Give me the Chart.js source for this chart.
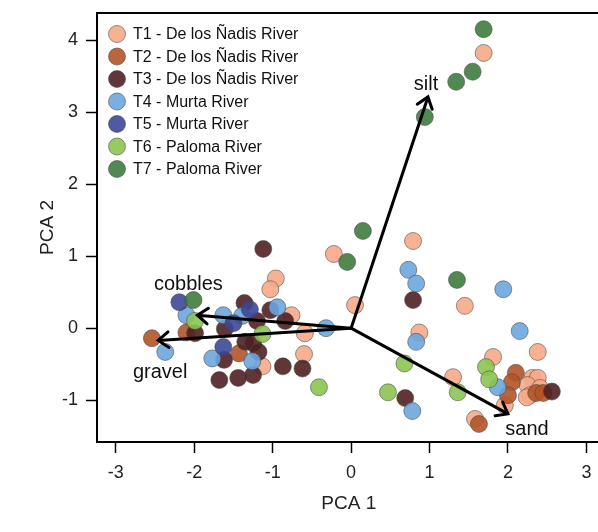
<!DOCTYPE html>
<html>
<head>
<meta charset="utf-8">
<script src="https://cdn.jsdelivr.net/npm/chart.js@4.4.1/dist/chart.umd.min.js"></script>
<style>
  html, body { margin: 0; padding: 0; background: #fff; overflow: hidden; }
  #wrap { width: 598px; height: 532px; overflow: hidden; }
  canvas { display: block; }
</style>
</head>
<body>
<div id="wrap"><canvas id="pcaChart" width="610" height="532"></canvas></div>
<script>
// PCA scores per transect (PCA 1, PCA 2)
const t1 = [[1.69,3.82],[-0.22,1.03],[0.79,1.21],[1.45,0.31],[0.05,0.32],[0.87,-0.06],[2.38,-0.33],
  [1.30,-0.68],[1.58,-1.26],[1.81,-0.40],[1.96,-1.07],[2.31,-0.69],[2.38,-0.69],[2.25,-0.79],
  [2.28,-0.93],[2.41,-0.83],[2.24,-0.96],[-0.96,0.69],[-1.03,0.54],[-0.76,0.18],[-0.59,-0.07],
  [-1.13,-0.53],[-0.60,-0.36]];
const t2 = [[1.63,-1.33],[2.10,-0.62],[2.05,-0.75],[2.00,-0.93],[2.36,-0.90],[2.45,-0.90],
  [-2.54,-0.14],[-2.10,-0.06],[-1.43,-0.35]];
const t3 = [[0.79,0.39],[0.69,-0.97],[2.56,-0.88],[-1.12,1.10],[-1.36,0.35],[-1.61,-0.01],
  [-1.03,0.25],[-0.84,0.10],[-1.20,0.10],[-1.99,-0.07],[-1.35,-0.19],[-1.25,-0.21],[-1.62,-0.44],
  [-1.18,-0.33],[-0.87,-0.53],[-0.62,-0.56],[-1.68,-0.72],[-1.44,-0.69],[-1.25,-0.65]];
const t4 = [[0.73,0.81],[0.83,0.62],[1.94,0.54],[0.83,-0.19],[2.15,-0.04],[0.78,-1.15],[1.87,-0.82],
  [-2.10,0.18],[-1.63,0.18],[-1.39,0.17],[-0.94,0.29],[-0.32,0.00],[-2.37,-0.33],[-1.77,-0.42],
  [-1.26,-0.46]];
const t5 = [[-2.19,0.36],[-1.29,0.26],[-1.50,0.07],[-1.63,-0.26]];
const t6 = [[-1.99,0.10],[-1.13,-0.08],[-0.41,-0.82],[0.68,-0.49],[1.36,-0.89],[0.47,-0.89],
  [1.72,-0.54],[1.76,-0.71]];
const t7 = [[1.69,4.15],[1.55,3.56],[1.34,3.42],[0.94,2.93],[0.15,1.35],[-0.05,0.92],[1.35,0.67],
  [-2.01,0.39]];

const seriesNames = ['T1 - De los Ñadis River', 'T2 - De los Ñadis River', 'T3 - De los Ñadis River',
  'T4 - Murta River', 'T5 - Murta River', 'T6 - Paloma River', 'T7 - Paloma River'];
const seriesData = [t1, t2, t3, t4, t5, t6, t7];
const seriesColors = ['rgba(246,170,135,0.9)', 'rgba(178,84,40,0.9)', 'rgba(80,32,34,0.9)',
  'rgba(108,166,222,0.9)', 'rgba(60,72,150,0.9)', 'rgba(140,196,80,0.9)', 'rgba(62,124,62,0.9)'];

// loading vectors
const loadingNames = ['silt', 'sand', 'gravel', 'cobbles'];
const loadingX = [0.98, 2.00, -2.46, -1.96];
const loadingY = [3.21, -1.19, -0.17, 0.18];

const xTicks = [-3, -2, -1, 0, 1, 2, 3];
const yTicks = [-1, 0, 1, 2, 3, 4];

// label offsets from arrow tip (px)
const labelOffsets = { silt: [-2, -7], sand: [19, 21], gravel: [2, 38], cobbles: [-9, -25] };

const datasets = seriesData.map((pts, i) => ({
  label: seriesNames[i],
  data: pts.map(p => ({ x: p[0], y: p[1] })),
  backgroundColor: seriesColors[i],
  borderColor: 'rgba(70,70,70,0.55)',
  borderWidth: 1,
  pointRadius: 8.5,
  order: 7 - i
}));

loadingNames.forEach((name, i) => {
  datasets.push({
    label: name,
    isArrow: true,
    data: [{ x: 0, y: 0 }, { x: loadingX[i], y: loadingY[i] }],
    showLine: true,
    borderColor: '#000',
    borderWidth: 3,
    pointRadius: 0,
    order: 0
  });
});

const frame = {
  id: 'frame',
  afterDraw(chart) {
    const { ctx, chartArea: a } = chart;
    ctx.save();
    ctx.strokeStyle = '#000';
    ctx.lineWidth = 2;
    ctx.strokeRect(a.left, a.top, a.right - a.left, a.bottom - a.top);
    ctx.restore();
  }
};

const arrowHeads = {
  id: 'arrowHeads',
  afterDatasetsDraw(chart) {
    const { ctx, scales: { x, y } } = chart;
    const x0 = x.getPixelForValue(0), y0 = y.getPixelForValue(0);
    ctx.save();
    ctx.strokeStyle = '#000';
    ctx.lineWidth = 3;
    ctx.lineCap = 'round';
    ctx.fillStyle = '#111';
    ctx.font = '20px "Liberation Sans", Arial, sans-serif';
    ctx.textAlign = 'center';
    ctx.textBaseline = 'alphabetic';
    loadingNames.forEach((name, i) => {
      const tx = x.getPixelForValue(loadingX[i]);
      const ty = y.getPixelForValue(loadingY[i]);
      const ang = Math.atan2(ty - y0, tx - x0);
      const len = 13, spread = 0.65;
      ctx.beginPath();
      ctx.moveTo(tx - len * Math.cos(ang - spread), ty - len * Math.sin(ang - spread));
      ctx.lineTo(tx, ty);
      ctx.lineTo(tx - len * Math.cos(ang + spread), ty - len * Math.sin(ang + spread));
      ctx.stroke();
      const off = labelOffsets[name];
      ctx.fillText(name, tx + off[0], ty + off[1]);
    });
    ctx.restore();
  }
};

const legendBox = {
  id: 'legendBox',
  afterDraw(chart) {
    const ctx = chart.ctx;
    ctx.save();
    ctx.font = '16px "Liberation Sans", Arial, sans-serif';
    ctx.textBaseline = 'middle';
    chart.data.datasets.filter(d => !d.isArrow).forEach((d, i) => {
      const cy = 34 + i * 22.5;
      ctx.beginPath();
      ctx.arc(117, cy, 8.5, 0, Math.PI * 2);
      ctx.fillStyle = d.backgroundColor;
      ctx.fill();
      ctx.strokeStyle = d.borderColor;
      ctx.lineWidth = 1;
      ctx.stroke();
      ctx.fillStyle = '#111';
      ctx.fillText(d.label, 133, cy + 1);
    });
    ctx.restore();
  }
};

const tickFont = { family: '"Liberation Sans", Arial, sans-serif', size: 18 };
const titleFont = { family: '"Liberation Sans", Arial, sans-serif', size: 19 };

new Chart(document.getElementById('pcaChart'), {
  type: 'scatter',
  data: { datasets: datasets },
  options: {
    responsive: false,
    animation: false,
    layout: { padding: { top: 13, right: 5, left: 0, bottom: 0 } },
    plugins: { legend: { display: false }, tooltip: { enabled: false } },
    scales: {
      x: {
        min: -3.24, max: 3.18,
        afterBuildTicks: s => { s.ticks = xTicks.map(v => ({ value: v })); },
        afterFit: s => { s.height = 90; s.paddingLeft = 0; s.paddingRight = 0; },
        grid: { drawOnChartArea: false, tickLength: 11, tickColor: '#000', tickWidth: 1.5 },
        border: { color: '#000', width: 2 },
        ticks: { font: tickFont, color: '#222', padding: 9, maxRotation: 0 },
        title: { display: true, text: 'PCA 1', font: titleFont, color: '#222', padding: { bottom: 17 } }
      },
      y: {
        min: -1.58, max: 4.375,
        afterBuildTicks: s => { s.ticks = yTicks.map(v => ({ value: v })); },
        afterFit: s => { s.width = 97; s.paddingTop = 0; s.paddingBottom = 0; },
        grid: { drawOnChartArea: false, tickLength: 11, tickColor: '#000', tickWidth: 1.5 },
        border: { color: '#000', width: 2 },
        ticks: { font: tickFont, color: '#222', padding: 8 },
        title: { display: true, text: 'PCA 2', font: titleFont, color: '#222', padding: { top: 36 } }
      }
    }
  },
  plugins: [frame, arrowHeads, legendBox]
});
</script>
</body>
</html>
